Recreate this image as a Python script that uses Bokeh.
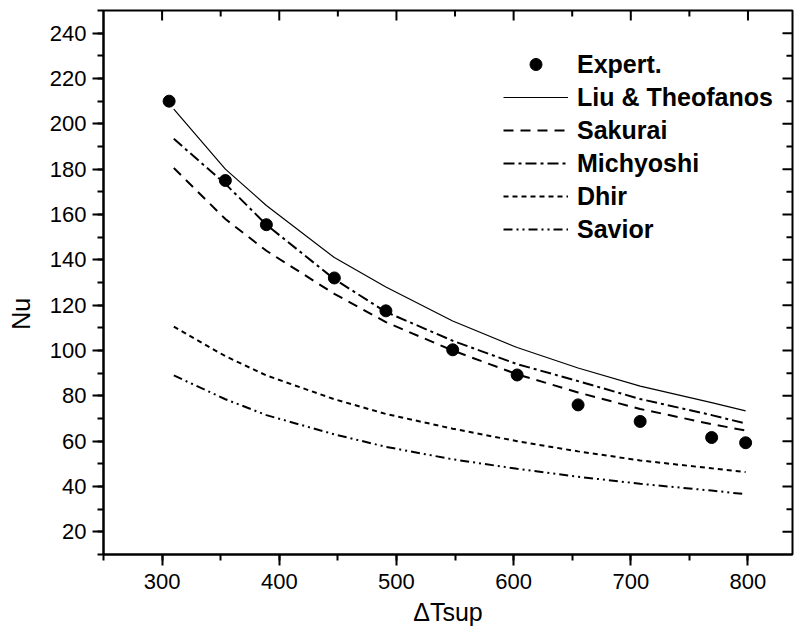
import math
from bokeh.plotting import figure
from bokeh.models import (FixedTicker, Legend, LegendItem, Range1d)
from bokeh.embed import file_html
from bokeh.resources import INLINE

# Experimental data
exp_x = [306, 354, 389, 447, 491, 548, 603, 655, 708, 769, 798]
exp_nu = [210, 175, 155.5, 132, 117.5, 100.3, 89.2, 76, 68.7, 61.6, 59.3]

# Correlations
model_x = [310, 354, 389, 447, 491, 548, 603, 655, 708, 769, 798]
liu = [206.5, 180, 164, 141, 128, 113, 101.3, 92.3, 84.3, 77, 73.4]
sakurai = [180.5, 158, 144, 125, 112.5, 100, 89.5, 81.5, 74.2, 67.5, 64.7]
michyoshi = [193.4, 173.5, 155.5, 131.5, 117, 104.3, 94, 86.5, 78.6, 71.5, 67.8]
dhir = [110.5, 97.5, 89, 78.5, 72, 65.5, 60, 55.5, 51.5, 48, 46.4]
savior = [89, 78.5, 71.5, 63, 57.5, 52, 47.8, 44.3, 41.2, 38.2, 36.6]

x_major = list(range(300, 801, 100))
x_minor = list(range(250, 851, 50))
y_major = list(range(20, 241, 20))
y_minor = list(range(10, 251, 10))

FONT = "Liberation Sans"

W, H = 794, 633
BL, BR, BT, BB = 103, 2, 10, 79
X0, X1 = 250, 838
Y0, Y1 = 10, 250

p = figure(width=W, height=H, output_backend="svg", toolbar_location=None,
           x_range=Range1d(X0, X1), y_range=Range1d(Y0, Y1),
           min_border_left=BL, min_border_right=BR, min_border_top=BT, min_border_bottom=BB)
p.xgrid.visible = False
p.ygrid.visible = False
p.outline_line_color = "black"
p.outline_line_width = 2
p.outline_line_alpha = 1
p.background_fill_color = "white"

# pixel -> data conversions for the inward ticks on the top and right frame edges
fw = W - BL - BR
fh = H - BT - BB
px_x = (X1 - X0) / fw
px_y = (Y1 - Y0) / fh
top_major = [t for t in x_major if X0 <= t <= X1]
top_minor = [t for t in x_minor if X0 < t < X1 and t not in x_major]
right_major = [t for t in y_major if Y0 <= t <= Y1]
right_minor = [t for t in y_minor if Y0 < t < Y1 and t not in y_major]
p.segment(x0=top_major, y0=[Y1] * len(top_major), x1=top_major,
          y1=[Y1 - 10 * px_y] * len(top_major), line_color="black", line_width=2)
p.segment(x0=top_minor, y0=[Y1] * len(top_minor), x1=top_minor,
          y1=[Y1 - 6 * px_y] * len(top_minor), line_color="black", line_width=2)
p.segment(x0=[X1] * len(right_major), y0=right_major, x1=[X1 - 10 * px_x] * len(right_major),
          y1=right_major, line_color="black", line_width=2)
p.segment(x0=[X1] * len(right_minor), y0=right_minor, x1=[X1 - 6 * px_x] * len(right_minor),
          y1=right_minor, line_color="black", line_width=2)

r_liu = p.line(model_x, liu, line_color="black", line_width=1.2)
r_sak = p.line(model_x, sakurai, line_color="black", line_width=2, line_dash="10 7")
r_mic = p.line(model_x, michyoshi, line_color="black", line_width=2, line_dash="11 4 3 4")
r_dhir = p.line(model_x, dhir, line_color="black", line_width=2, line_dash="5 4")
r_sav = p.line(model_x, savior, line_color="black", line_width=2, line_dash="9 4 2 4 2 4")
r_exp = p.scatter(exp_x, exp_nu, size=12, fill_color="black", line_color="black")

def style_main(ax, ticks, minors):
    ax.ticker = FixedTicker(ticks=ticks, minor_ticks=minors)
    ax.axis_line_width = 2
    ax.axis_line_color = "black"
    ax.major_tick_line_width = 2
    ax.minor_tick_line_width = 2
    ax.major_tick_out = 11
    ax.major_tick_in = 0
    ax.minor_tick_out = 6
    ax.minor_tick_in = 0
    ax.major_label_text_font = FONT
    ax.major_label_text_font_size = "22px"
    ax.major_label_text_color = "black"
    ax.major_label_standoff = 6
    ax.axis_label_text_font = FONT
    ax.axis_label_text_font_size = "25px"
    ax.axis_label_text_font_style = "normal"
    ax.axis_label_text_color = "black"

style_main(p.xaxis[0], x_major, x_minor)
style_main(p.yaxis[0], y_major, y_minor)
p.xaxis[0].major_label_standoff = 8
p.xaxis[0].axis_label = "\u0394Tsup"
p.xaxis[0].axis_label_standoff = 6
# trailing no-break spaces push the rotated title slightly lower, as in the reference
p.yaxis[0].axis_label = "Nu" + "\u00a0" * 9
p.yaxis[0].axis_label_standoff = 12

legend = Legend(items=[
    LegendItem(label="Expert.", renderers=[r_exp]),
    LegendItem(label="Liu & Theofanos", renderers=[r_liu]),
    LegendItem(label="Sakurai", renderers=[r_sak]),
    LegendItem(label="Michyoshi", renderers=[r_mic]),
    LegendItem(label="Dhir", renderers=[r_dhir]),
    LegendItem(label="Savior", renderers=[r_sav]),
], location=(400, 310))
legend.label_text_font = FONT
legend.label_text_font_size = "25px"
legend.label_text_font_style = "bold"
legend.label_text_color = "black"
legend.label_standoff = 9
legend.glyph_width = 65
legend.glyph_height = 30
legend.label_height = 30
legend.spacing = 3
legend.padding = 0
legend.margin = 0
legend.border_line_alpha = 0
legend.background_fill_alpha = 0
p.add_layout(legend)

open("out.html", "w").write(file_html(p, INLINE))
